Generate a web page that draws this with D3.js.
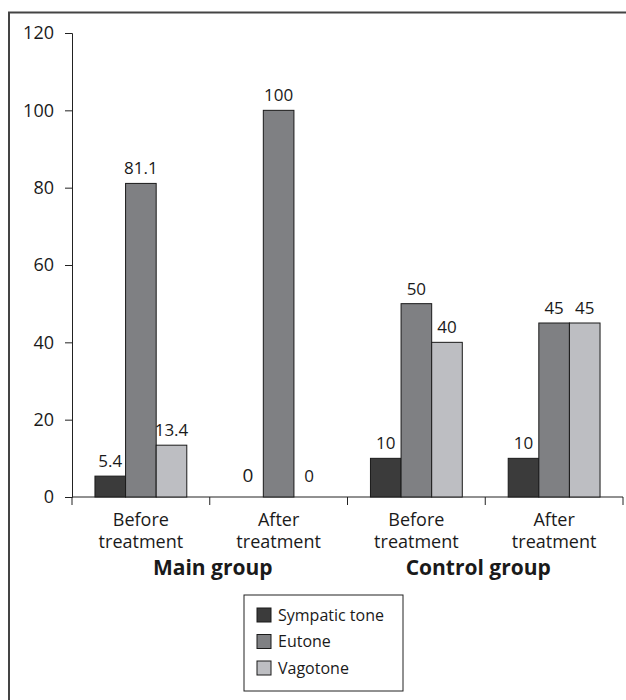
<!DOCTYPE html>
<html>
<head>
<meta charset="utf-8">
<script src="https://cdn.jsdelivr.net/npm/d3@7"></script>
<style>
  body { margin: 0; background: #fff; }
  text { font-family: "Open Sans", sans-serif; fill: #1a1a1a; }
</style>
</head>
<body>
<svg width="626" height="700"></svg>
<script>
// data
var categories = ['Before treatment', 'After treatment', 'Before treatment', 'After treatment'];
var groups = ['Main group', 'Control group'];
var series = ['Sympatic tone', 'Eutone', 'Vagotone'];
var sympatic = [5.4, 0, 10, 10];
var eutone = [81.1, 100, 50, 45];
var vagotone = [13.4, 0, 40, 45];
var yTicks = [0, 20, 40, 60, 80, 100, 120];

var colors = ['#3b3b3b', '#7f8083', '#bdbec2'];
var values = [sympatic, eutone, vagotone];

var svg = d3.select('svg');

// outer frame (cut by the image on right and bottom)
svg.append('rect')
  .attr('x', 9).attr('y', 12.5)
  .attr('width', 640).attr('height', 720)
  .attr('fill', 'none')
  .attr('stroke', '#444')
  .attr('stroke-width', 2);

var x = d3.scaleBand().domain(d3.range(categories.length)).range([72, 623]),
  y = d3.scaleLinear().domain([0, 120]).range([497, 33]);

// 3 bars + 1.5 bars of gap per category
var barW = x.bandwidth() / 4.5;
var inner = d3.scaleBand().domain(d3.range(series.length))
  .range([barW * 0.75, barW * 3.75]);

// y axis
var yAxis = svg.append('g')
  .attr('transform', 'translate(72,0)')
  .call(d3.axisLeft(y).tickValues(yTicks).tickSize(7).tickPadding(11));
yAxis.select('.domain').attr('stroke', '#222');
yAxis.selectAll('line').attr('stroke', '#222');
yAxis.selectAll('text').style('font-size', '18px').attr('fill', '#1a1a1a');

// x axis: ticks at category boundaries
var xAxisG = svg.append('g').attr('transform', 'translate(0,' + y(0) + ')');
xAxisG.append('line')
  .attr('x1', x.range()[0]).attr('x2', x.range()[1])
  .attr('stroke', '#222');
xAxisG.selectAll('.tick')
  .data(d3.range(categories.length + 1))
  .enter()
  .append('line')
  .attr('x1', d => x.range()[0] + d * x.step())
  .attr('x2', d => x.range()[0] + d * x.step())
  .attr('y1', 0).attr('y2', 8)
  .attr('stroke', '#222');

// bars
var cat = svg.selectAll('.cat')
  .data(d3.range(categories.length))
  .enter()
  .append('g')
  .attr('class', 'cat')
  .attr('transform', d => 'translate(' + x(d) + ',0)');

cat.selectAll('rect')
  .data(c => values.map((s, i) => ({s: i, v: s[c]})))
  .enter()
  .append('rect')
  .filter(d => d.v > 0)
  .attr('x', d => inner(d.s))
  .attr('width', inner.bandwidth())
  .attr('y', d => y(d.v))
  .attr('height', d => y(0) - y(d.v))
  .attr('fill', d => colors[d.s])
  .attr('stroke', '#1a1a1a')
  .attr('stroke-width', 1);

cat.selectAll('.val')
  .data(c => values.map((s, i) => ({s: i, v: s[c]})))
  .enter()
  .append('text')
  .attr('class', 'val')
  .attr('x', d => inner(d.s) + inner.bandwidth() / 2)
  .attr('y', d => Math.min(y(d.v), y(0) - 6) - 9)
  .attr('text-anchor', 'middle')
  .style('font-size', d => (d.v === 0 && d.s === 0 ? '19px' : '17px'))
  .text(d => d.v);

// category labels
var lab = svg.selectAll('.catlab')
  .data(categories)
  .enter()
  .append('text')
  .attr('class', 'catlab')
  .attr('text-anchor', 'middle')
  .attr('x', (d, i) => x(i) + x.bandwidth() / 2)
  .attr('y', 526)
  .style('font-size', '18px');
lab.append('tspan').text(d => d.split(' ')[0]);
lab.append('tspan')
  .attr('x', (d, i) => x(i) + x.bandwidth() / 2)
  .attr('dy', 22)
  .text(d => d.split(' ')[1]);

// group labels
var grpShift = [3, -7];
svg.selectAll('.grp')
  .data(groups)
  .enter()
  .append('text')
  .attr('class', 'grp')
  .attr('text-anchor', 'middle')
  .attr('x', (d, i) => x(i * 2) + x.step() + grpShift[i])
  .attr('y', 575)
  .style('font-size', '21px')
  .style('font-weight', 'bold')
  .text(d => d);

// legend
var legend = svg.append('g').attr('transform', 'translate(244,595)');
legend.append('rect')
  .attr('width', 159).attr('height', 96)
  .attr('fill', '#fff')
  .attr('stroke', '#222');
var item = legend.selectAll('.item')
  .data(series)
  .enter()
  .append('g')
  .attr('transform', (d, i) => 'translate(13,' + (20 + i * 26.5) + ')');
item.append('rect')
  .attr('x', 0).attr('y', -7)
  .attr('width', 14).attr('height', 14)
  .attr('fill', (d, i) => colors[i])
  .attr('stroke', '#1a1a1a');
item.append('text')
  .attr('x', 21)
  .attr('dy', '0.35em')
  .style('font-size', '16px')
  .text(d => d);
</script>
</body>
</html>
